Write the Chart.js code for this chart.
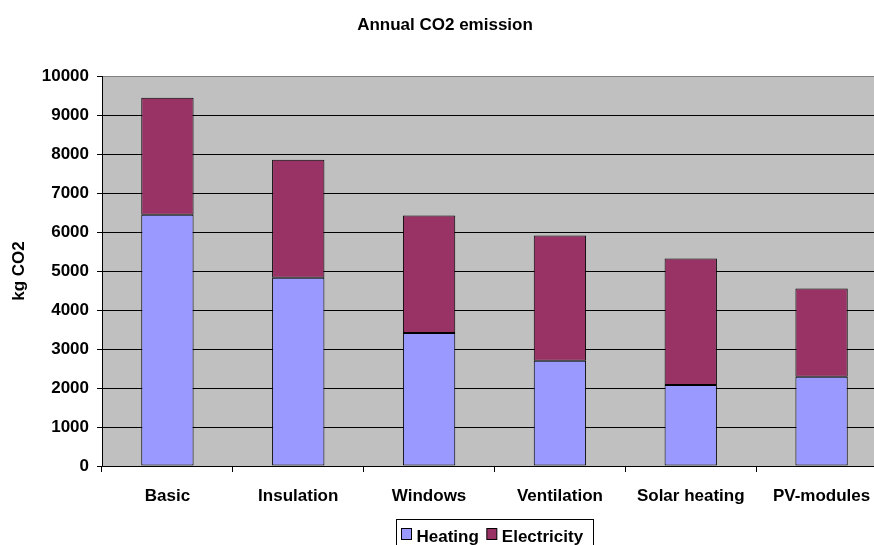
<!DOCTYPE html>
<html>
<head>
<meta charset="utf-8">
<title>Annual CO2 emission</title>
<script src="https://cdn.jsdelivr.net/npm/chart.js@4/dist/chart.umd.min.js"></script>
<style>
  html, body { margin: 0; padding: 0; background: #ffffff; overflow: hidden; }
  #wrap { width: 890px; height: 545px; }
</style>
</head>
<body>
<div id="wrap"><canvas id="chart" width="890" height="545"></canvas></div>
<script>
// Annual CO2 emission per building measure (kg CO2)
const categories = ['Basic', 'Insulation', 'Windows', 'Ventilation', 'Solar heating', 'PV-modules'];
const heating = [6440, 4830, 3410, 2700, 2080, 2290];
const electricity = [3000, 3020, 3010, 3210, 3240, 2260];
const seriesNames = ['Heating', 'Electricity'];
const chartTitle = 'Annual CO2 emission';
const yTitle = 'kg CO2';
const yMin = 0, yMax = 10000, yStep = 1000;

const FONT = '"Liberation Sans", Arial, Helvetica, sans-serif';
const COLORS = { heating: '#9999FF', electricity: '#993366', plot: '#C0C0C0' };

// Grey plot area behind the bars
const plotBackground = {
  id: 'plotBackground',
  beforeDraw(chart) {
    const { ctx, chartArea: a } = chart;
    ctx.save();
    ctx.fillStyle = COLORS.plot;
    ctx.fillRect(a.left, a.top, a.right - a.left, a.bottom - a.top);
    ctx.restore();
  }
};

// Centered chart title above the plot
const titlePlugin = {
  id: 'titlePlugin',
  afterDraw(chart) {
    const { ctx } = chart;
    ctx.save();
    ctx.font = 'bold 17px ' + FONT;
    ctx.fillStyle = '#000';
    ctx.textAlign = 'center';
    ctx.textBaseline = 'alphabetic';
    ctx.fillText(chartTitle, chart.width / 2, 30);
    ctx.restore();
  }
};

// Boxed legend below the category labels
const boxLegend = {
  id: 'boxLegend',
  afterDraw(chart) {
    const { ctx } = chart;
    const colors = [COLORS.heating, COLORS.electricity];
    ctx.save();
    ctx.font = 'bold 17px ' + FONT;
    ctx.textBaseline = 'alphabetic';
    const boxLeft = 396.5, boxTop = 519.5, boxRight = 593.5;
    ctx.strokeStyle = '#000';
    ctx.lineWidth = 1;
    ctx.strokeRect(boxLeft, boxTop, boxRight - boxLeft, 40);
    let x = boxLeft + 5;
    seriesNames.forEach((name, i) => {
      ctx.fillStyle = colors[i];
      ctx.fillRect(x, 528.5, 10, 11);
      ctx.strokeStyle = '#000';
      ctx.strokeRect(x, 528.5, 10, 11);
      x += 15;
      ctx.fillStyle = '#000';
      ctx.fillText(name, x, 542);
      x += ctx.measureText(name).width + 8;
    });
    ctx.restore();
  }
};

new Chart(document.getElementById('chart'), {
  type: 'bar',
  data: {
    labels: categories,
    datasets: [
      {
        label: seriesNames[0],
        data: heating,
        backgroundColor: COLORS.heating,
        borderColor: '#000',
        borderWidth: 1,
        borderSkipped: false,
        barPercentage: 0.4,
        categoryPercentage: 1
      },
      {
        label: seriesNames[1],
        data: electricity,
        backgroundColor: COLORS.electricity,
        borderColor: '#000',
        borderWidth: 1,
        borderSkipped: false,
        barPercentage: 0.4,
        categoryPercentage: 1
      }
    ]
  },
  options: {
    responsive: false,
    animation: false,
    devicePixelRatio: 1,
    layout: { padding: { top: 76, right: 3, bottom: 0, left: 0 } },
    plugins: {
      legend: { display: false },
      title: { display: false },
      tooltip: { enabled: false }
    },
    scales: {
      x: {
        stacked: true,
        offset: true,
        grid: {
          offset: true,
          drawOnChartArea: false,
          drawTicks: true,
          tickLength: 6,
          color: '#000',
          lineWidth: 1
        },
        border: { display: true, color: '#000', width: 1 },
        ticks: {
          color: '#000',
          font: { family: FONT, size: 17, weight: 'bold' },
          padding: 14,
          maxRotation: 0,
          autoSkip: false
        },
        afterFit(scale) { scale.height = 79; }
      },
      y: {
        stacked: true,
        min: yMin,
        max: yMax,
        grid: {
          color: (c) => (c.tick && c.tick.value === yMax) ? '#808080' : '#000',
          lineWidth: 1,
          drawTicks: true,
          tickLength: 5,
          tickColor: '#000'
        },
        border: { display: true, color: '#000', width: 1 },
        ticks: {
          stepSize: yStep,
          color: '#000',
          font: { family: FONT, size: 17, weight: 'bold' },
          padding: 8,
          callback: (v) => String(v)
        },
        title: {
          display: true,
          text: yTitle,
          color: '#000',
          font: { family: FONT, size: 17, weight: 'bold' },
          padding: { top: 9, bottom: 0 }
        },
        afterFit(scale) { scale.width = 102; }
      }
    }
  },
  plugins: [plotBackground, titlePlugin, boxLegend]
});
</script>
</body>
</html>
